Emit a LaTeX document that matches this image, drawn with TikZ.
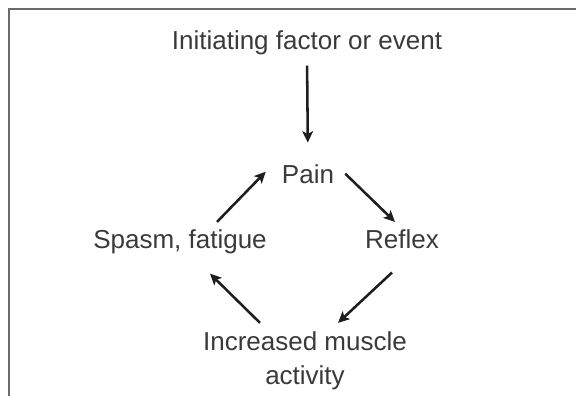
\documentclass[tikz,border=0pt]{standalone}
\usepackage{fontspec}
\setmainfont{Liberation Sans}
\usetikzlibrary{arrows.meta}
\definecolor{textgray}{HTML}{3A3A3A}
\definecolor{arrowblack}{HTML}{1E1E1E}
\definecolor{framegray}{HTML}{6A6A6A}
\tikzset{
  label text/.style={anchor=base, inner sep=0pt, text=textgray, font=\fontsize{19.5}{25.5}\selectfont},
  cycle arrow/.style={draw=arrowblack, line width=1.9, -{Stealth[length=8.5pt,width=8pt,inset=2pt]}},
}

\begin{document}
\begin{tikzpicture}[x=0.75pt,y=0.75pt,yscale=-1,xscale=1]
  \useasboundingbox (0,0) rectangle (576,396);
  \draw [framegray, line width=1.5] (9,397) -- (9,9) -- (577,9) ;

  \node [label text] (init) at (307,50) {Initiating factor or event};
  \node [label text] (pain) at (308,183) {Pain};
  \node [label text] (spasm) at (180,248) {Spasm, fatigue};
  \node [label text] (reflex) at (402,248) {Reflex};
  \node [label text, align=center] (incr) at (305,384) {Increased muscle\\activity};

  \draw [cycle arrow, shorten <=7.5, shorten >=16] (init.south) -- (pain.north) ;
  \draw [cycle arrow] ([shift={(11,0)}]pain.east) -- ([shift={(-7,-7)}]reflex.north) ;
  \draw [cycle arrow] ([shift={(-10,24)}]reflex.south) -- ([shift={(33,-8)}]incr.north) ;
  \draw [cycle arrow] ([shift={(-45,-8)}]incr.north) -- ([shift={(30,20)}]spasm.south) ;
  \draw [cycle arrow] ([shift={(37,-7)}]spasm.north) -- ([shift={(-16,-2)}]pain.west) ;
\end{tikzpicture}
\end{document}
